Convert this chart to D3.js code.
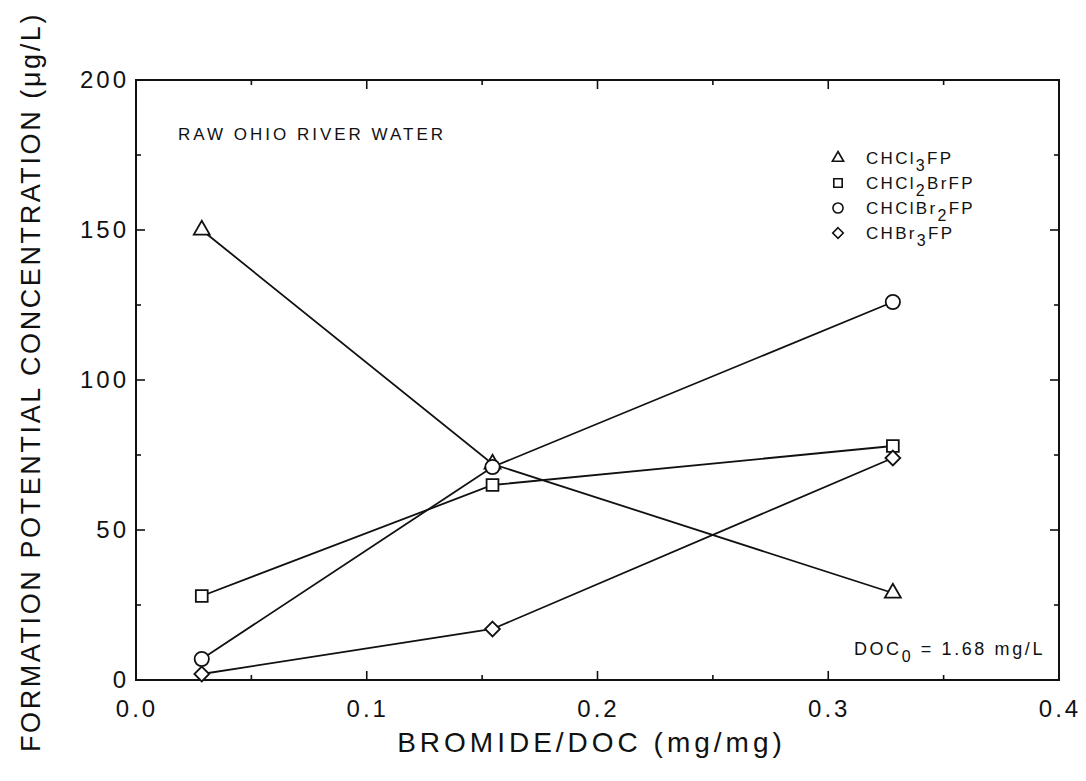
<!DOCTYPE html>
<meta charset="utf-8">
<html>
<head>
<style>
  body { margin: 0; background: #fff; }
  text { font-family: "Liberation Sans", Arial, sans-serif; fill: #111; }
</style>
</head>
<body>
<script src="https://d3js.org/d3.v7.min.js"></script>
<div id="chart"></div>
<script>

// bromide/DOC ratio for the three samples
var ratio = [0.0285, 0.1545, 0.328];

// formation potentials (ug/L)
var chcl3 = [150, 72, 29];
var chcl2br = [28, 65, 78];
var chclbr2 = [7, 71, 126];
var chbr3 = [2, 17, 74];

var xTicks = [0.0, 0.1, 0.2, 0.3, 0.4];
var yTicks = [0, 50, 100, 150, 200];

var series = [
  {name: "CHCl3FP", vals: chcl3, sym: "triangle"},
  {name: "CHCl2BrFP", vals: chcl2br, sym: "square"},
  {name: "CHClBr2FP", vals: chclbr2, sym: "circle"},
  {name: "CHBr3FP", vals: chbr3, sym: "diamond"}
];

var W = 1086, H = 781;
var margin = {top: 80, right: 27, bottom: 101, left: 136},
    width = W - margin.left - margin.right,
    height = H - margin.top - margin.bottom;

var svg = d3.select("#chart").append("svg")
    .attr("width", W).attr("height", H);
var g = svg.append("g")
    .attr("transform", "translate(" + margin.left + "," + margin.top + ")");

var x = d3.scaleLinear().domain([0, 0.4]).range([0, width]);
var y = d3.scaleLinear().domain([0, 200]).range([height, 0]);

// frame
g.append("rect")
  .attr("width", width).attr("height", height)
  .attr("fill", "none").attr("stroke", "#111").attr("stroke-width", 2);

// ticks (inward), major + minor
var xMinor = d3.range(0.05, 0.4, 0.1);
var yMinor = d3.range(25, 200, 50);
function tickLines(vals, len, axis) {
  vals.forEach(function(v) {
    if (axis == "x") {
      g.append("line").attr("x1", x(v)).attr("x2", x(v))
        .attr("y1", height).attr("y2", height - len);
      g.append("line").attr("x1", x(v)).attr("x2", x(v))
        .attr("y1", 0).attr("y2", len);
    } else {
      g.append("line").attr("y1", y(v)).attr("y2", y(v))
        .attr("x1", 0).attr("x2", len);
      g.append("line").attr("y1", y(v)).attr("y2", y(v))
        .attr("x1", width).attr("x2", width - len);
    }
  });
}
tickLines(xTicks.slice(1, -1), 9, "x");
tickLines(xMinor, 5, "x");
tickLines(yTicks.slice(1, -1), 9, "y");
tickLines(yMinor, 5, "y");
g.selectAll("line").attr("stroke", "#111").attr("stroke-width", 1.6);

// tick labels
g.selectAll(".xl").data(xTicks).enter().append("text")
  .attr("x", function(d) { return x(d) + 1; })
  .attr("y", height + 37)
  .attr("text-anchor", "middle")
  .style("font-size", "24px")
  .style("letter-spacing", "3px")
  .text(function(d) { return d.toFixed(1); });

g.selectAll(".yl").data(yTicks).enter().append("text")
  .attr("x", -7)
  .attr("y", function(d) { return y(d) + 8; })
  .attr("text-anchor", "end")
  .style("font-size", "24px")
  .style("letter-spacing", "3px")
  .text(function(d) { return d; });

// axis titles
svg.append("text")
  .attr("x", margin.left + width / 2 - 6)
  .attr("y", 752)
  .attr("text-anchor", "middle")
  .style("font-size", "28px")
  .style("letter-spacing", "4px")
  .text("BROMIDE/DOC (mg/mg)");

svg.append("text")
  .attr("transform", "translate(40," + 382 + ") rotate(-90)")
  .attr("text-anchor", "middle")
  .style("font-size", "27px")
  .style("letter-spacing", "2.6px")
  .text("FORMATION POTENTIAL CONCENTRATION (\u03BCg/L)");

// lines
var line = d3.line()
  .x(function(d, i) { return x(ratio[i]); })
  .y(function(d) { return y(d); });

g.selectAll(".series").data(series).enter().append("path")
  .attr("d", function(d) { return line(d.vals); })
  .attr("fill", "none").attr("stroke", "#111").attr("stroke-width", 1.8);

// markers
var diamond = {
  draw: function(ctx, size) {
    var r = Math.sqrt(size / 2);
    ctx.moveTo(0, -r); ctx.lineTo(r, 0); ctx.lineTo(0, r); ctx.lineTo(-r, 0); ctx.closePath();
  }
};
var symType = {
  triangle: [d3.symbolTriangle, 110],
  square: [d3.symbolSquare, 140],
  circle: [d3.symbolCircle, 160],
  diamond: [diamond, 110]
};
function symPath(s, k) {
  return d3.symbol().type(symType[s][0]).size(symType[s][1] * (k || 1))();
}

series.forEach(function(s) {
  g.selectAll(null).data(s.vals).enter().append("path")
    .attr("d", symPath(s.sym))
    .attr("transform", function(d, i) {
      return "translate(" + x(ratio[i]) + "," + y(d) + ")";
    })
    .attr("fill", "#fff").attr("stroke", "#111").attr("stroke-width", 1.8);
});

// legend
var legend = g.append("g").attr("transform", "translate(" + (838 - margin.left) + "," + (158 - margin.top) + ")");
var legLabels = [
  ["CHCl", "3", "FP"],
  ["CHCl", "2", "BrFP"],
  ["CHClBr", "2", "FP"],
  ["CHBr", "3", "FP"]
];
series.forEach(function(s, i) {
  var row = legend.append("g").attr("transform", "translate(0," + (i * 25) + ")");
  row.append("path")
    .attr("d", symPath(s.sym, 0.5))
    .attr("fill", "#fff").attr("stroke", "#111").attr("stroke-width", 1.6);
  var t = row.append("text").attr("x", 28).attr("y", 6)
    .style("font-size", "17px").style("letter-spacing", "2.3px");
  t.append("tspan").text(legLabels[i][0]);
  t.append("tspan").attr("dy", 7).style("font-size", "16px").text(legLabels[i][1]);
  t.append("tspan").attr("dy", -7).text(legLabels[i][2]);
});

// annotations
g.append("text")
  .attr("x", 178 - margin.left).attr("y", 140 - margin.top)
  .style("font-size", "17px")
  .style("letter-spacing", "3px")
  .text("RAW OHIO RIVER WATER");

var doc = g.append("text")
  .attr("x", 1045 - margin.left).attr("y", 655 - margin.top)
  .attr("text-anchor", "end")
  .style("font-size", "18px")
  .style("letter-spacing", "2.6px");
doc.append("tspan").text("DOC");
doc.append("tspan").attr("dy", 7).style("font-size", "16px").text("0");
doc.append("tspan").attr("dy", -7).text("  =  1.68  mg/L");

</script>
</body>
</html>
